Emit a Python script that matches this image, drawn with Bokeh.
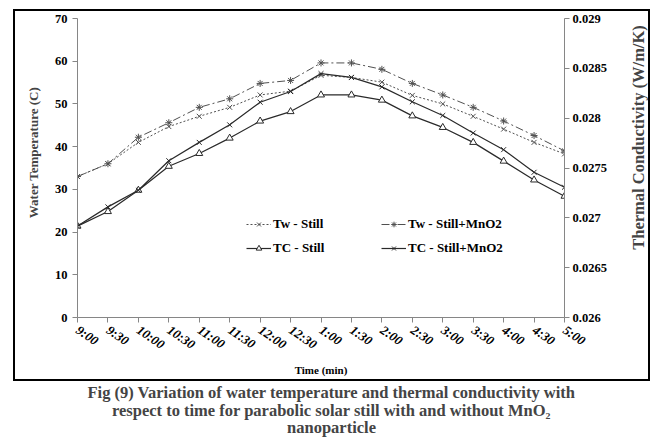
import math
from bokeh.plotting import figure
from bokeh.layouts import column, row
from bokeh.models import (Range1d, LinearAxis, FixedTicker, CustomJSTickFormatter,
                          Legend, LegendItem, Label)
from bokeh.embed import file_html
from bokeh.resources import INLINE

times = ["9:00", "9:30", "10:00", "10:30", "11:00", "11:30", "12:00", "12:30",
         "1:00", "1:30", "2:00", "2:30", "3:00", "3:30", "4:00", "4:30", "5:00"]
tw_still = [33.0, 36.0, 41.0, 44.7, 47.1, 49.2, 52.1, 53.0, 56.7, 56.2, 55.1,
            52.0, 50.0, 47.1, 44.1, 41.0, 38.3]
tw_mno2 = [33.0, 36.0, 42.2, 45.6, 49.2, 51.2, 54.8, 55.5, 59.6, 59.6, 58.1,
           54.8, 52.1, 49.2, 46.0, 42.6, 39.0]
tc_still = [0.026917, 0.027063, 0.027277, 0.027517, 0.027646, 0.027800, 0.027971,
            0.028066, 0.028233, 0.028233, 0.028181, 0.028023, 0.027907, 0.027757,
            0.027569, 0.027380, 0.027217]
tc_mno2 = [0.026917, 0.027110, 0.027277, 0.027573, 0.027757, 0.027933, 0.028160,
           0.028267, 0.028447, 0.028409, 0.028314, 0.028164, 0.028027, 0.027851,
           0.027684, 0.027457, 0.027307]
temp_ticks = [0, 10, 20, 30, 40, 50, 60, 70]
k_ticks = [0.026, 0.0265, 0.027, 0.0275, 0.028, 0.0285, 0.029]
left_title = "Water Temperature (C)"
right_title = "Thermal Conductivity (W/m/K)"
x_title = "Time (min)"
caption = ["Fig (9) Variation of water temperature and thermal conductivity with",
           "respect to time for parabolic solar still with and without MnO\u2082",
           "nanoparticle"]

x = list(range(len(times)))
FONT = "Liberation Serif"
AX = "#868686"


def blank(w, h):
    f = figure(width=w, height=h, output_backend="svg", toolbar_location=None,
               x_axis_location=None, y_axis_location=None,
               min_border=0, min_border_left=0, min_border_right=0,
               min_border_top=0, min_border_bottom=0)
    f.xgrid.visible = False
    f.ygrid.visible = False
    f.outline_line_color = None
    return f


p = figure(width=580, height=368, output_backend="svg", toolbar_location=None,
           x_range=Range1d(0, len(times) - 1), y_range=Range1d(0, 70),
           min_border_left=32, min_border_right=61, min_border_top=7,
           min_border_bottom=60)
p.extra_y_ranges = {"k": Range1d(0.026, 0.029)}
p.xgrid.visible = False
p.ygrid.visible = False
p.outline_line_color = None

ya = p.yaxis[0]
ya.ticker = FixedTicker(ticks=temp_ticks)
xa = p.xaxis[0]
xa.ticker = FixedTicker(ticks=x)
xa.major_label_overrides = {i: t for i, t in enumerate(times)}
xa.major_label_orientation = -0.6
xa.axis_label = x_title
ra = LinearAxis(y_range_name="k", ticker=FixedTicker(ticks=k_ticks),
                formatter=CustomJSTickFormatter(code="return String(Number(tick.toPrecision(4)));"))
p.add_layout(ra, "right")

for a in [ya, xa, ra]:
    a.axis_line_color = AX
    a.major_tick_line_color = AX
    a.minor_tick_line_color = None
    a.major_tick_out = 5
    a.major_tick_in = 0
    a.major_label_text_font = FONT
    a.major_label_text_font_size = "12.5px"
    a.major_label_text_color = "black"
    a.major_label_text_font_style = "bold"
    a.axis_label_text_font = FONT
    a.axis_label_text_font_style = "bold"
    a.axis_label_text_color = "black"
xa.major_label_text_font_style = "bold italic"
xa.major_label_text_font_size = "13px"
xa.major_label_standoff = 6
xa.axis_label_text_font_size = "11px"
xa.axis_label_standoff = 3
ra.major_label_standoff = 3

C1 = "#505050"
C2 = "#2a2a2a"
r1 = p.line(x, tw_still, line_color=C1, line_dash="2 2", line_width=1)
m1 = p.scatter(x, tw_still, marker="x", size=7, line_color=C1)
r2 = p.line(x, tw_mno2, line_color=C1, line_dash="8 3 2 3", line_width=1)
m2 = p.scatter(x, tw_mno2, marker="asterisk", size=7, line_color=C1)
r3 = p.line(x, tc_still, y_range_name="k", line_color=C2, line_width=1.2)
m3 = p.scatter(x, tc_still, y_range_name="k", marker="triangle", size=7,
               line_color=C2, fill_color="white")
r4 = p.line(x, tc_mno2, y_range_name="k", line_color=C2, line_width=1.2)
m4 = p.scatter(x, tc_mno2, y_range_name="k", marker="x", size=7, line_color=C2)


def mk_legend(items, loc):
    lg = Legend(items=items, location=loc, orientation="vertical",
                border_line_color=None, background_fill_alpha=0,
                label_text_font=FONT, label_text_font_style="bold",
                label_text_font_size="13px", label_text_color="black",
                glyph_width=25, glyph_height=14, label_height=14,
                label_standoff=2, spacing=8, padding=0, margin=0)
    p.add_layout(lg, "center")


mk_legend([LegendItem(label="Tw - Still", renderers=[r1, m1]),
           LegendItem(label="TC - Still", renderers=[r3, m3])], (169, 61))
mk_legend([LegendItem(label="Tw - Still+MnO2", renderers=[r2, m2]),
           LegendItem(label="TC - Still+MnO2", renderers=[r4, m4])], (304, 61))

# axis titles in side strips
lf = blank(30, 368)
lf.add_layout(Label(x=18, y=227, x_units="screen", y_units="screen",
                    text=left_title, angle=math.pi / 2,
                    text_align="center", text_baseline="middle",
                    text_font=FONT, text_font_style="bold", text_font_size="13px"))
rf = blank(23, 368)
rf.add_layout(Label(x=13, y=242, x_units="screen", y_units="screen",
                    text=right_title, angle=math.pi / 2,
                    text_align="center", text_baseline="middle",
                    text_font=FONT, text_font_style="bold", text_font_size="16.5px"))

# caption panel
c = blank(653, 56)
for i, line in enumerate(caption):
    c.add_layout(Label(x=331, y=45 - 17.5 * i, x_units="screen", y_units="screen",
                       text=line, text_align="center", text_baseline="middle",
                       text_font=FONT, text_font_style="bold", text_font_size="16.5px"))

for fig in (p, c, lf, rf):
    if hasattr(fig, "frame_align"):
        fig.frame_align = False

box = row(lf, p, rf, spacing=0, styles={"border": "2px solid black"},
          margin=(9, 0, 0, 13))
layout = column(box, c, spacing=0)
open("out.html", "w").write(file_html(layout, INLINE))
